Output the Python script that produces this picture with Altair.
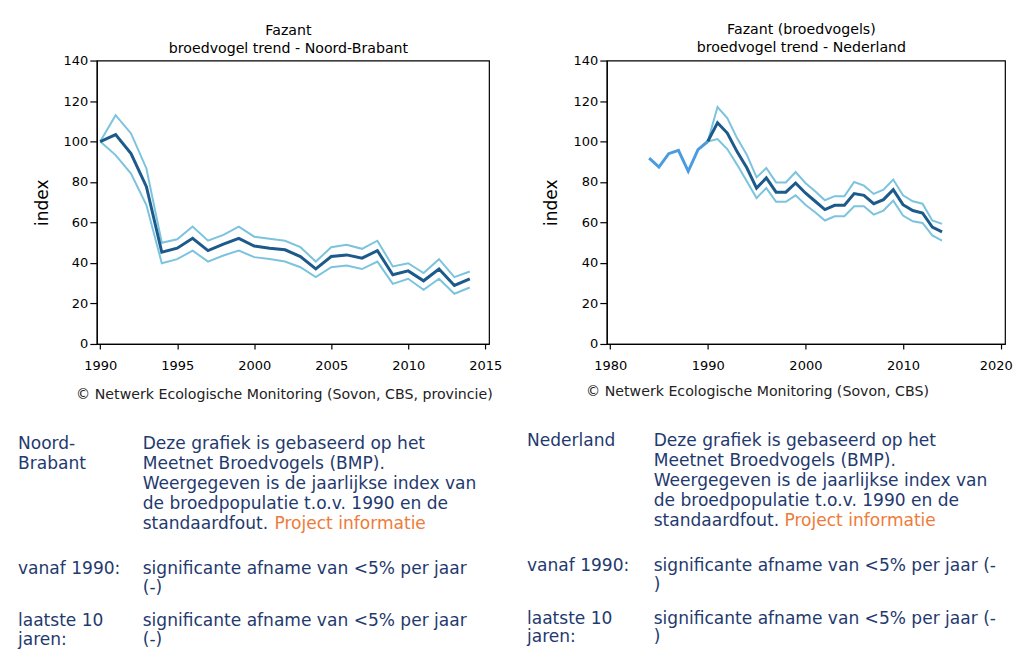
import altair as alt
import pandas as pd

# ---------------- data: Noord-Brabant ----------------
years_nb = list(range(1990, 2015))
index_nb = [100, 103.4, 94, 77.7, 45.3, 47.3, 52.2, 46.1, 49.3, 52.2, 48.4, 47.3, 46.5,
            43.2, 37.1, 43.2, 44, 42.4, 46.1, 34.2, 36.1, 31.2, 37, 28.9, 32.2]
upper_nb = [100, 113, 104, 86.7, 50, 51.7, 58, 51, 53.9, 58, 53, 52, 51,
            47.8, 40.7, 47.8, 49, 47, 51, 38.3, 39.9, 35, 41.9, 33, 35.8]
lower_nb = [100, 93.3, 84.2, 68.6, 39.9, 41.9, 46.1, 40.7, 43.7, 46.1, 42.9, 42, 40.7,
            37.9, 33, 37.9, 38.8, 37, 40.7, 29.7, 32.2, 26.8, 32.2, 24.8, 27.9]

# ---------------- data: Nederland ----------------
years_nl_pre = [1984, 1985, 1986, 1987, 1988, 1989, 1990]
index_nl_pre = [91.8, 87.4, 94, 95.6, 85.3, 96, 100]
years_nl = list(range(1990, 2015))
index_nl = [100, 109.3, 104.2, 95, 87, 77, 82, 75, 75, 79.5, 74.6, 70.5, 66.4,
            68.5, 68.5, 74.3, 73.4, 69.3, 71.3, 76.2, 68.8, 65.9, 64.7, 57.7, 55.4]
upper_nl = [100, 117, 111.6, 101.7, 93.5, 82.3, 86.9, 79.8, 79.8, 84.9, 79.5, 75.4, 71,
            73, 73, 80, 78.2, 74.1, 76.2, 81.2, 73.4, 70.5, 69.3, 61, 59.3]
lower_nl = [100, 101.2, 96.3, 88.6, 80.4, 72.1, 77, 70.2, 70.2, 73.4, 68.8, 65.1, 61,
            63.1, 63.1, 68, 68, 63.9, 65.9, 70.8, 63.4, 60.6, 59.8, 53.6, 51.1]

# ---------------- ticks ----------------
y_ticks = [0, 20, 40, 60, 80, 100, 120, 140]
x_ticks_nb = [1990, 1995, 2000, 2005, 2010, 2015]
x_ticks_nl = [1980, 1990, 2000, 2010, 2020]

# ---------------- texts ----------------
title_nb = ["Fazant", "broedvogel trend - Noord-Brabant"]
title_nl = ["Fazant (broedvogels)", "broedvogel trend - Nederland"]
footer_nb = "\u00a9 Netwerk Ecologische Monitoring (Sovon, CBS, provincie)"
footer_nl = "\u00a9 Netwerk Ecologische Monitoring (Sovon, CBS)"
label_nb = ["Noord-", "Brabant"]
label_nl = ["Nederland"]
body_lines = ["Deze grafiek is gebaseerd op het", "Meetnet Broedvogels (BMP).",
              "Weergegeven is de jaarlijkse index van", "de broedpopulatie t.o.v. 1990 en de",
              "standaardfout."]
link_text = "Project informatie"
since_label = ["vanaf 1990:"]
last_label = ["laatste 10", "jaren:"]
trend_nb = ["significante afname van <5% per jaar", "(-)"]
trend_nl = ["significante afname van <5% per jaar (-", ")"]

DARK = "#1c5a8c"
LIGHT = "#7cc3de"
PRE = "#4a9be0"
TXT = "#1f3a6e"
ORANGE = "#ee7b3a"
FONT = "DejaVu Sans"
BODY = 17.1
SMALL = 14.2

one = pd.DataFrame({"k": [0]})


def txt(x, y, text, size, color="black", align="left", baseline="top", lh=20):
    return alt.Chart(one).mark_text(
        align=align, baseline=baseline, font=FONT, fontSize=size, color=color, lineHeight=lh
    ).encode(x=alt.value(x), y=alt.value(y), text=alt.value(text))


def panel(df, pre, xdom, xticks, width, title, footer, label, trend, title_cx, title_y,
          foot_cx, foot_y, base_y, since_y, last_y, ytitle_x, lab_x, col_x, link_x,
          last_tick_offset=0):
    xs = alt.Scale(domain=xdom, nice=False, zero=False)
    ys = alt.Scale(domain=[0, 140], nice=False)
    xa = alt.Axis(values=xticks, format="d", grid=False, tickSize=5, labelPadding=10.5,
                  title=None, labelFlush=False,
                  labelOffset={"condition": {"test": f"datum.value >= {xticks[-1]}",
                                             "value": last_tick_offset}, "value": 0})
    ya = alt.Axis(values=y_ticks, grid=False, tickSize=7, labelPadding=2, title="index",
                  titleFontSize=17, titleFontWeight="normal", titleX=ytitle_x, titleY=142,
                  titleAngle=270, titleAlign="center", titleBaseline="middle")
    base = alt.Chart(df)
    layers = []
    if pre is not None:
        layers.append(alt.Chart(pre).mark_line(color=PRE, strokeWidth=3).encode(
            x=alt.X("year:Q", scale=xs, axis=xa), y=alt.Y("v:Q", scale=ys, axis=ya)))
    up = base.mark_line(color=LIGHT, strokeWidth=2).encode(
        x=alt.X("year:Q", scale=xs, axis=xa), y=alt.Y("upper:Q", scale=ys, axis=ya))
    lo = base.mark_line(color=LIGHT, strokeWidth=2).encode(
        x=alt.X("year:Q", scale=xs, axis=xa), y=alt.Y("lower:Q", scale=ys, axis=ya))
    mid = base.mark_line(color=DARK, strokeWidth=3).encode(
        x=alt.X("year:Q", scale=xs, axis=xa), y=alt.Y("index:Q", scale=ys, axis=ya))
    layers += [up, lo, mid]
    layers += [
        txt(title_cx, title_y, title[0], SMALL, align="center", baseline="middle"),
        txt(title_cx, title_y + 18, title[1], SMALL, align="center", baseline="middle"),
        txt(foot_cx, foot_y, footer, SMALL, color="#222222", align="center", baseline="middle"),
        txt(lab_x, base_y, label, BODY, color=TXT),
        txt(col_x, base_y, body_lines, BODY, color=TXT),
        txt(link_x, base_y + 80, link_text, BODY, color=ORANGE),
        txt(lab_x, since_y, since_label, BODY, color=TXT),
        txt(col_x, since_y, trend, BODY, color=TXT),
        txt(lab_x, last_y, last_label, BODY, color=TXT, lh=18.8),
        txt(col_x, last_y, trend, BODY, color=TXT, lh=18.8),
    ]
    return alt.layer(*layers).properties(width=width, height=284)


df_nb = pd.DataFrame({"year": years_nb, "index": index_nb, "upper": upper_nb, "lower": lower_nb})
df_nl = pd.DataFrame({"year": years_nl, "index": index_nl, "upper": upper_nl, "lower": lower_nl})
df_pre = pd.DataFrame({"year": years_nl_pre, "v": index_nl_pre})

left = panel(df_nb, None, [1989.78, 2015.25], x_ticks_nb, 393, title_nb, footer_nb, label_nb,
             trend_nb, 192, -30, 188, 335.5, 375, 500, 552.7, -54, -79, 46, 178)
right = panel(df_nl, df_pre, [1979.66, 2020.45], x_ticks_nl, 399, title_nl, footer_nl, label_nl,
              trend_nl, 195, -30.5, 151, 332, 372, 497, 550.3, -55, -80, 47, 178,
              last_tick_offset=-5)

chart = alt.hconcat(left, right, spacing=118, bounds="flush").properties(
    padding={"left": 9, "top": 13, "right": 0, "bottom": 0},
    background="white",
).configure_view(stroke="black", strokeWidth=1.2).configure_axis(
    labelFont=FONT, labelFontSize=13, labelColor="black", domainColor="black",
    tickColor="black", titleFont=FONT, titleColor="black", domainWidth=1.2, tickWidth=1.2
)

chart.save("out.html", embed_options={"renderer": "svg", "actions": False})
